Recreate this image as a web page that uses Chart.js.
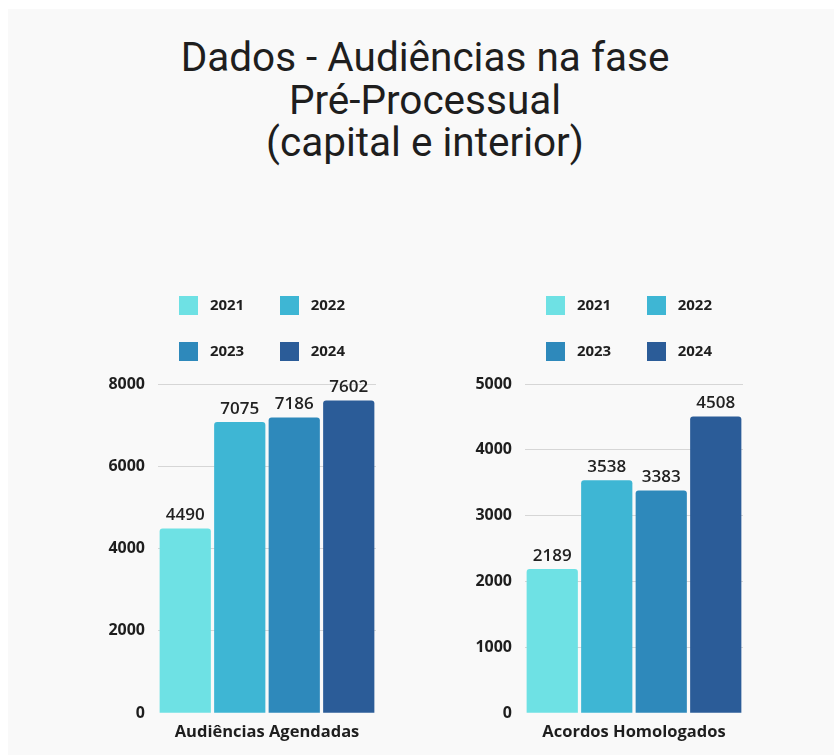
<!DOCTYPE html>
<html lang="pt-BR">
<head>
<meta charset="utf-8">
<title>Dados - Audiências na fase Pré-Processual</title>
<script src="https://cdn.jsdelivr.net/npm/chart.js@4.4.1/dist/chart.umd.min.js"></script>
<style>
  html, body { margin: 0; padding: 0; background: #ffffff; overflow: hidden; }
  body { width: 834px; height: 755px; position: relative; }
  #frame { position: absolute; left: 8px; top: 9px; right: 0; bottom: 0; background: #f9f9f9; }
  #title {
    position: absolute; left: 8px; top: 36px; width: 834px;
    text-align: center; font-family: Roboto, sans-serif; font-size: 40.5px;
    line-height: 42.5px; color: #1e1e1e;
  }
  .box { position: absolute; }
</style>
</head>
<body>
<div id="frame"></div>
<div id="title">Dados - Audiências na fase<br>Pré-Processual<br>(capital e interior)</div>
<div class="box" style="left:104px; top:258px; width:272px; height:498px;"><canvas id="chartAudiencias"></canvas></div>
<div class="box" style="left:471px; top:258px; width:272px; height:498px;"><canvas id="chartAcordos"></canvas></div>

<script>
// dados
const years = ["2021", "2022", "2023", "2024"];

const audienciasLabels = ["Audiências Agendadas"];
const audienciasValues = [4490, 7075, 7186, 7602];
const audienciasMax = 8000;
const audienciasStep = 2000;

const acordosLabels = ["Acordos Homologados"];
const acordosValues = [2189, 3538, 3383, 4508];
const acordosMax = 5000;
const acordosStep = 1000;

const yearColors = ["#6ee1e4", "#3eb6d4", "#2e89bb", "#2b5c98"];

Chart.defaults.font.family = "'Open Sans', sans-serif";
Chart.defaults.color = "#1e1e1e";

// quadradinho da legenda (fica centrado numa caixa mais larga, deixa o espaço antes do texto)
function swatch(color) {
    const c = document.createElement("canvas");
    c.width = 19;
    c.height = 19;
    const g = c.getContext("2d");
    g.fillStyle = color;
    g.fillRect(0, 0, 19, 19);
    return c;
}

// valores em cima das barras
const valueLabels = {
    id: "valueLabels",
    afterDatasetsDraw(chart) {
        const ctx = chart.ctx;
        ctx.save();
        ctx.font = "600 17px 'Open Sans', sans-serif";
        ctx.fillStyle = "#222222";
        ctx.textAlign = "center";
        ctx.textBaseline = "alphabetic";
        chart.data.datasets.forEach((ds, i) => {
            const meta = chart.getDatasetMeta(i);
            meta.data.forEach((bar, j) => {
                ctx.fillText(String(ds.data[j]), bar.x, bar.y - 8);
            });
        });
        ctx.restore();
    },
};

function makeChart(canvasId, labels, values, max, step) {
    const ctx = document.getElementById(canvasId).getContext("2d");

    const datasets = years.map((year, i) => ({
        label: year,
        data: [values[i]],
        backgroundColor: yearColors[i],
        pointStyle: swatch(yearColors[i]),
        borderRadius: 3,
        borderSkipped: "start",
        barPercentage: 0.94,
        categoryPercentage: 1,
    }));

    return new Chart(ctx, {
        type: "bar",
        data: { labels, datasets },
        plugins: [valueLabels],
        options: {
            responsive: true,
            maintainAspectRatio: false,
            animation: false,
            layout: {
                padding: { left: 0, right: 0, top: 9, bottom: 5 },
            },
            scales: {
                x: {
                    grid: { display: false, drawTicks: false },
                    border: { display: false },
                    ticks: {
                        padding: 9,
                        color: "#1e1e1e",
                        font: { size: 16.5, weight: "bold" },
                    },
                },
                y: {
                    min: 0,
                    max: max,
                    afterFit: (scale) => { scale.width = 54; },
                    grid: {
                        drawTicks: false,
                        color: (c) => (c.tick && c.tick.value === 0 ? "rgba(0,0,0,0)" : "#d6d6d6"),
                    },
                    border: { display: false },
                    ticks: {
                        stepSize: step,
                        padding: 13,
                        color: "#1e1e1e",
                        font: { size: 16, weight: "bold" },
                        callback: (value) => String(value),
                    },
                },
            },
            plugins: {
                legend: {
                    position: "top",
                    align: "end",
                    labels: {
                        usePointStyle: true,
                        pointStyleWidth: 28,
                        padding: 31,
                        color: "#1e1e1e",
                        font: { size: 15, weight: "bold" },
                    },
                },
                // espaçador entre legenda e área do gráfico
                title: {
                    display: true,
                    text: "",
                    weight: 500,
                    padding: 0,
                    font: { size: 15, lineHeight: 1 },
                },
                tooltip: { enabled: false },
            },
        },
    });
}

makeChart("chartAudiencias", audienciasLabels, audienciasValues, audienciasMax, audienciasStep);
makeChart("chartAcordos", acordosLabels, acordosValues, acordosMax, acordosStep);
</script>
</body>
</html>
